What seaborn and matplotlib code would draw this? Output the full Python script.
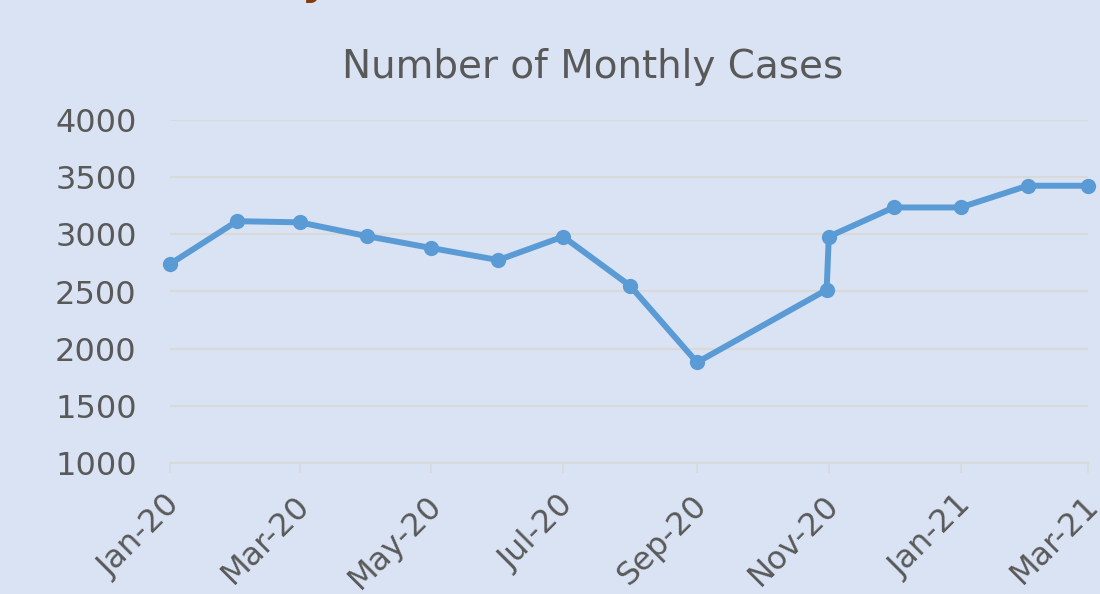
import pandas as pd
import matplotlib
matplotlib.use("Agg")
import matplotlib.pyplot as plt
import matplotlib.dates as mdates
from matplotlib.transforms import ScaledTranslation
import seaborn as sns

# values
dates = ["2020-01-01", "2020-02-01", "2020-03-01", "2020-04-01", "2020-05-01",
         "2020-06-01", "2020-07-01", "2020-08-01", "2020-09-01", "2020-10-31",
         "2020-11-01", "2020-12-01", "2021-01-01", "2021-02-01", "2021-03-01"]
cases = [2740, 3115, 3105, 2985, 2880, 2775, 2980, 2550, 1880, 2515,
         2980, 3235, 3235, 3425, 3425]
y_ticks = [1000, 1500, 2000, 2500, 3000, 3500, 4000]

BG = "#DAE3F3"
LINE = "#5B9BD5"
TEXT = "#595959"
GRID = "#D9D9D9"

df = pd.DataFrame({"date": pd.to_datetime(dates), "cases": cases})

sns.set_theme(style="white")
plt.rcParams["font.family"] = ["DejaVu Sans"]

fig = plt.figure(figsize=(11, 5.94), dpi=100, facecolor=BG)
ax = fig.add_axes([170 / 1100, 1 - 463 / 594, (1088 - 170) / 1100, (463 - 120) / 594])
ax.set_facecolor(BG)

sns.lineplot(data=df, x="date", y="cases", ax=ax, color=LINE, linewidth=4.3,
             marker="o", markersize=11, markeredgewidth=0, clip_on=False, zorder=3)

ax.set_xlim(pd.Timestamp("2020-01-01"), pd.Timestamp("2021-03-01"))
ax.set_ylim(1000, 4000)
ax.set_yticks(y_ticks)
ax.xaxis.set_major_locator(mdates.MonthLocator(bymonth=[1, 3, 5, 7, 9, 11]))
ax.xaxis.set_major_formatter(mdates.DateFormatter("%b-%y"))

ax.yaxis.grid(True, color=GRID, linewidth=1.5)
ax.set_axisbelow(True)
for s in ["left", "right", "top"]:
    ax.spines[s].set_visible(False)
ax.spines["bottom"].set_color(GRID)
ax.spines["bottom"].set_linewidth(1.5)

ax.tick_params(axis="y", length=0, pad=24, labelsize=23, labelcolor=TEXT)
ax.tick_params(axis="x", length=7, width=1.2, color=GRID, direction="out",
               pad=12, labelsize=23, labelcolor=TEXT, bottom=True)
for lab in ax.get_xticklabels():
    lab.set_rotation(45)
    lab.set_ha("right")
    lab.set_va("top")
    lab.set_rotation_mode("anchor")
    lab.set_transform(lab.get_transform() + ScaledTranslation(-0.05, 0, fig.dpi_scale_trans))

ax.set_xlabel("")
ax.set_ylabel("")

fig.text(593 / 1100, 1 - 78 / 594, "Number of Monthly Cases", ha="center",
         va="baseline", fontsize=28, color=TEXT)

# bit of the slide heading cut off at the top edge
fig.text(302 / 1100, 1 + 6 / 594, "y", ha="left", va="baseline", fontsize=30,
         fontweight="bold", color="#843C0C")

fig.savefig("out.png", dpi=100, facecolor=BG)
